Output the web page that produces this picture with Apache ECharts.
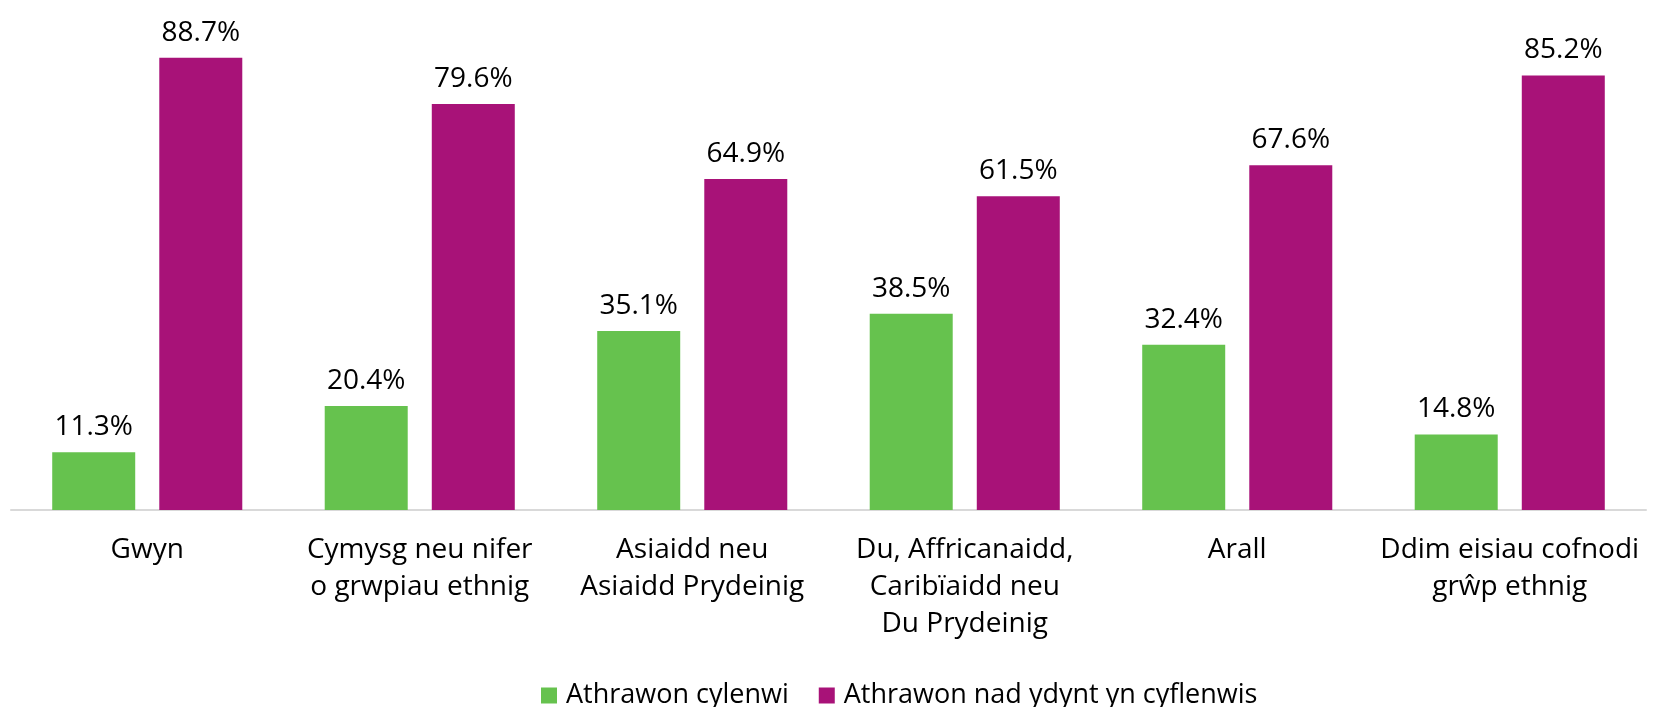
<!DOCTYPE html>
<html>
<head>
<meta charset="utf-8">
<title>Athrawon cyflenwi yn ôl grŵp ethnig</title>
<script src="https://cdn.jsdelivr.net/npm/echarts@6/dist/echarts.min.js"></script>
<style>
html, body {
  margin: 0;
  padding: 0;
  background: #fff;
}
#bar-chart {
  width: 1662px;
  height: 707px;
}
</style>
</head>
<body>
<div id="bar-chart"></div>
<script>
// categories (Welsh, line breaks as in the original)
var categories = [
  'Gwyn',
  'Cymysg neu nifer\no grwpiau ethnig',
  'Asiaidd neu\nAsiaidd Prydeinig',
  'Du, Affricanaidd,\nCaribïaidd neu\nDu Prydeinig',
  'Arall',
  'Ddim eisiau cofnodi\ngrŵp ethnig'
]
var seriesNames = ['Athrawon cylenwi', 'Athrawon nad ydynt yn cyflenwis']
var cyflenwi = [11.3, 20.4, 35.1, 38.5, 32.4, 14.8]
var ddimCyflenwi = [88.7, 79.6, 64.9, 61.5, 67.6, 85.2]

var font = "'Open Sans', 'Noto Sans', sans-serif"

function pct (p) {
  return p.value.toFixed(1) + '%'
}

function barSeries (name, data, color) {
  return {
    name: name,
    type: 'bar',
    data: data,
    barWidth: 83,
    barGap: '29%',
    itemStyle: { color: color },
    label: {
      show: true,
      position: 'top',
      distance: 11,
      formatter: pct,
      color: '#000',
      fontFamily: font,
      fontSize: 28
    }
  }
}

var option = {
  backgroundColor: '#fff',
  animation: false,
  grid: {
    left: 11, right: 16, top: 0, bottom: 197
  },
  legend: {
    data: seriesNames,
    left: 536,
    bottom: -7,
    icon: 'rect',
    itemWidth: 16,
    itemHeight: 16,
    itemGap: 30,
    textStyle: {
      color: '#000',
      fontFamily: font,
      fontSize: 27,
      padding: [0, 0, 0, 4]
    }
  },
  xAxis: {
    type: 'category',
    data: categories,
    axisLine: { lineStyle: { color: '#d9d9d9', width: 2 } },
    axisTick: { show: false },
    axisLabel: {
      interval: 0,
      margin: 22,
      color: '#000',
      fontFamily: font,
      fontSize: 28,
      lineHeight: 37
    }
  },
  yAxis: {
    type: 'value',
    min: 0,
    max: 100,
    show: false
  },
  series: [
    barSeries(seriesNames[0], cyflenwi, '#66c24e'),
    barSeries(seriesNames[1], ddimCyflenwi, '#a81278')
  ]
}

var chart = echarts.init(document.getElementById('bar-chart'))
chart.setOption(option)
</script>
</body>
</html>
